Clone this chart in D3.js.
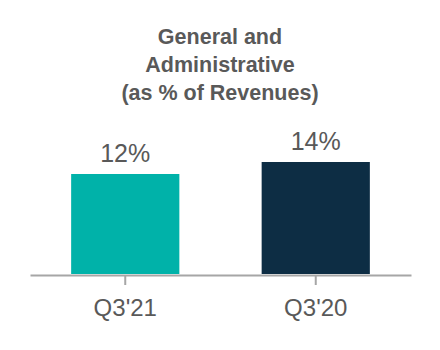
<!DOCTYPE html>
<html>
<head>
<meta charset="utf-8">
<script src="https://cdn.jsdelivr.net/npm/d3@7"></script>
<style>
  html, body { margin: 0; padding: 0; background: #ffffff; }
  svg { display: block; }
  text { font-family: "Liberation Sans", Arial, sans-serif; }
</style>
</head>
<body>
<svg id="chart" width="440" height="350"></svg>
<script>
// Data
const categories = ["Q3'21", "Q3'20"];
const values = [12, 14];
const valueLabels = ["12%", "14%"];
const barColors = ["#00B2A9", "#0D2D44"];
const titleLines = ["General and", "Administrative", "(as % of Revenues)"];

const svg = d3.select("#chart");
const textColor = "#595959";
const baseY = 274;

// Title
svg.append("g")
  .selectAll("text")
  .data(titleLines)
  .join("text")
  .attr("x", 220)
  .attr("y", (d, i) => 44 + i * 28)
  .attr("text-anchor", "middle")
  .attr("font-size", 21.5)
  .attr("font-weight", "bold")
  .attr("fill", textColor)
  .text(d => d);

// Scales
const x = d3.scaleBand()
  .domain(categories)
  .range([30, 411])
  .paddingInner(0.432)
  .paddingOuter(0.216);

const y = d3.scaleLinear()
  .domain([-4.67, 14])
  .range([baseY, 162]);

// Bars
svg.append("g")
  .selectAll("rect")
  .data(values)
  .join("rect")
  .attr("x", (d, i) => x(categories[i]))
  .attr("y", d => y(d))
  .attr("width", x.bandwidth())
  .attr("height", d => baseY - y(d))
  .attr("fill", (d, i) => barColors[i]);

// Value labels
svg.append("g")
  .selectAll("text")
  .data(values)
  .join("text")
  .attr("x", (d, i) => x(categories[i]) + x.bandwidth() / 2)
  .attr("y", d => y(d) - 12)
  .attr("text-anchor", "middle")
  .attr("font-size", 25)
  .attr("fill", textColor)
  .text((d, i) => valueLabels[i]);

// Category axis
const axis = svg.append("g")
  .attr("transform", `translate(0,${baseY + 1})`)
  .call(d3.axisBottom(x).tickSizeInner(10).tickSizeOuter(0).tickPadding(14));

axis.select(".domain")
  .attr("stroke", "#A6A6A6")
  .attr("stroke-width", 2);
axis.selectAll(".tick line")
  .attr("stroke", "#A6A6A6")
  .attr("stroke-width", 2);
axis.selectAll(".tick text")
  .attr("font-family", "\"Liberation Sans\", Arial, sans-serif")
  .attr("font-size", 24)
  .attr("fill", textColor);
</script>
</body>
</html>
